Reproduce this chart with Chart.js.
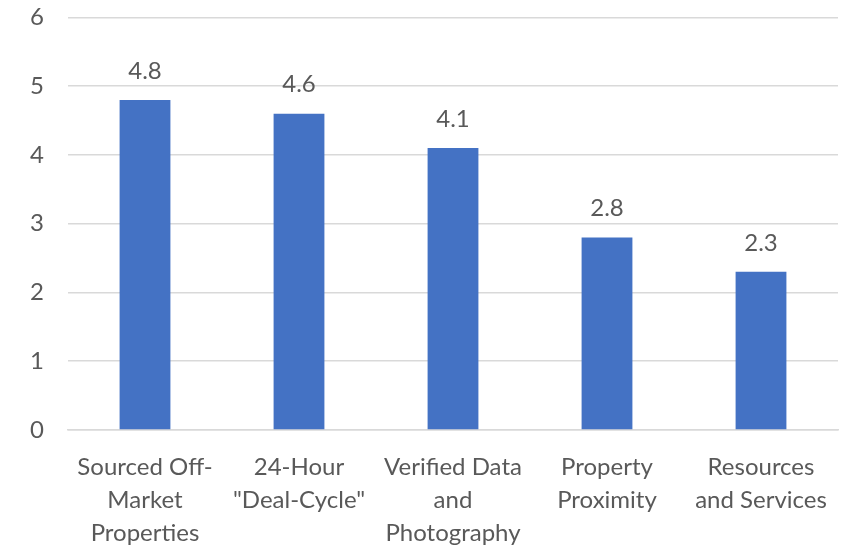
<!DOCTYPE html>
<html lang="en">
<head>
    <meta charset="UTF-8">
    <title>Bar chart</title>
    <script src="https://cdn.jsdelivr.net/npm/chart.js"></script>
    <style>
        body { margin: 0; background: #fff; overflow: hidden; }
        .wrap { width: 859px; height: 570px; margin-top: -21px; }
    </style>
</head>
<body>
<div class="wrap"><canvas id="bar-chart"></canvas></div>
<script>
    const categories = [
        ['Sourced Off-', 'Market', 'Properties'],
        ['24-Hour', '"Deal-Cycle"'],
        ['Verified Data', 'and', 'Photography'],
        ['Property', 'Proximity'],
        ['Resources', 'and Services']
    ];
    const values = [4.8, 4.6, 4.1, 2.8, 2.3];
    const yTicks = [0, 1, 2, 3, 4, 5, 6];

    const textColor = '#595959';
    const fontFamily = 'Lato, "Open Sans", sans-serif';

    // value labels above bars
    const valueLabels = {
        id: 'valueLabels',
        afterDatasetsDraw(chart) {
            const ctx = chart.ctx;
            const meta = chart.getDatasetMeta(0);
            ctx.save();
            ctx.fillStyle = textColor;
            ctx.font = '24px ' + fontFamily;
            ctx.textAlign = 'center';
            ctx.textBaseline = 'middle';
            meta.data.forEach((bar, i) => {
                ctx.fillText(values[i].toFixed(1), bar.x, bar.y - 29);
            });
            ctx.restore();
        }
    };

    new Chart(document.getElementById('bar-chart'), {
        type: 'bar',
        data: {
            labels: categories,
            datasets: [{
                data: values,
                backgroundColor: '#4472C4',
                categoryPercentage: 1,
                barPercentage: 0.33
            }]
        },
        options: {
            responsive: true,
            maintainAspectRatio: false,
            animation: false,
            layout: { padding: { top: 0, right: 21, left: 0, bottom: 0 } },
            plugins: {
                legend: { display: false },
                tooltip: { enabled: false }
            },
            scales: {
                x: {
                    grid: { display: false, drawTicks: false },
                    border: { color: '#d9d9d9', width: 1.5 },
                    ticks: {
                        color: textColor,
                        font: { family: fontFamily, size: 24, lineHeight: 1.375 },
                        padding: 21,
                        maxRotation: 0,
                        autoSkip: false
                    },
                    afterFit(scale) { scale.height = 119; }
                },
                y: {
                    min: 0,
                    max: 6,
                    afterBuildTicks(scale) { scale.ticks = yTicks.map(v => ({ value: v })); },
                    grid: { color: '#d9d9d9', lineWidth: 1.5, drawTicks: false },
                    border: { display: false },
                    ticks: {
                        color: textColor,
                        font: { family: fontFamily, size: 24 },
                        padding: 24
                    },
                    afterFit(scale) { scale.width = 68; }
                }
            }
        },
        plugins: [valueLabels]
    });
</script>
</body>
</html>
